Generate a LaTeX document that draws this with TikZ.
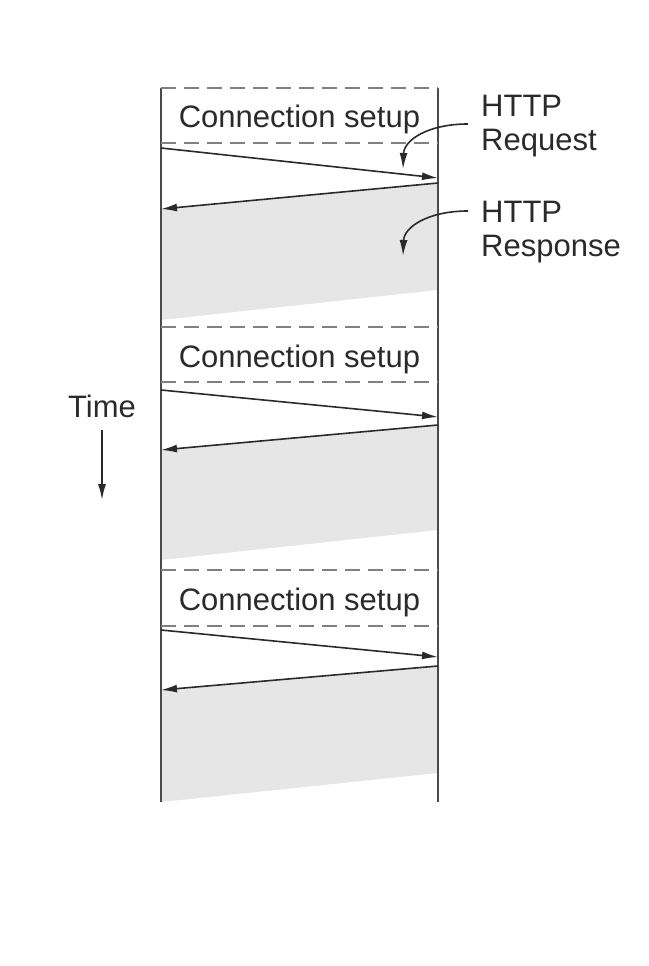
\documentclass[tikz,border=0pt]{standalone}
\usepackage{fontspec}
\setmainfont{Liberation Sans}
\usetikzlibrary{arrows.meta}
\definecolor{txt}{HTML}{2A2A2A}
\definecolor{respgray}{HTML}{E6E6E6}
\definecolor{sepgray}{HTML}{808080}
\definecolor{vline}{HTML}{4A4A4A}
\tikzset{
  lbl/.style={font=\fontsize{31}{34}\selectfont, text=txt, inner sep=0pt},
  msg/.style={draw=txt, line width=1.6pt, -{Latex[length=16pt,width=8pt]}},
  sep/.style={draw=sepgray, line width=1.5pt, dash pattern=on 15pt off 8pt},
  side/.style={draw=vline, line width=1.4pt},
  pointer/.style={draw=txt, line width=1.6pt, -{Latex[length=16pt,width=8pt]}},
}
\begin{document}
\begin{tikzpicture}[x=1pt,y=-1pt]
\useasboundingbox (0,0) rectangle (648,966);
% shaded response regions
\fill[respgray] (161,209) -- (438,183) -- (438,290) -- (161,320) -- cycle;
\fill[respgray] (161,450) -- (438,425) -- (438,530) -- (161,560) -- cycle;
\fill[respgray] (161,690) -- (438,666) -- (438,773) -- (161,802) -- cycle;
% side lines
\coordinate (ltop) at (161,88);
\coordinate (lbot) at (161,802);
\coordinate (rtop) at (438,88);
\coordinate (rbot) at (438,802);
\draw[side] (ltop) -- (lbot);
\draw[side] (rtop) -- (rbot);
% dashed separators
\foreach \y/\n in {88/a,143/b,327/c,382/d,570/e,626/f}{
  \coordinate (sl\n) at (161,\y);
  \coordinate (sr\n) at (438,\y);
  \draw[sep] (sl\n) -- (sr\n);
}
% labels
\node[lbl, anchor=base] (cs1) at (299.5,127) {Connection setup};
\node[lbl, anchor=base] (cs2) at (299.5,367) {Connection setup};
\node[lbl, anchor=base] (cs3) at (299.5,610) {Connection setup};
% messages
\coordinate (q1s) at (161,148); \coordinate (q1e) at (438,178);
\coordinate (r1s) at (438,183); \coordinate (r1e) at (161,209);
\coordinate (q2s) at (161,390); \coordinate (q2e) at (438,417);
\coordinate (r2s) at (438,425); \coordinate (r2e) at (161,450);
\coordinate (q3s) at (161,630); \coordinate (q3e) at (438,657);
\coordinate (r3s) at (438,666); \coordinate (r3e) at (161,690);
\draw[msg] (q1s) -- (q1e);
\draw[msg] (r1s) -- (r1e);
\draw[msg] (q2s) -- (q2e);
\draw[msg] (r2s) -- (r2e);
\draw[msg] (q3s) -- (q3e);
\draw[msg] (r3s) -- (r3e);
% HTTP labels
\node[lbl, anchor=base west, align=left] (req) at (481,150) {HTTP\\Request};
\node[lbl, anchor=base west, align=left] (resp) at (481,256) {HTTP\\Response};
\coordinate (p1s) at (468,124); \coordinate (p1e) at (403,169);
\coordinate (p2s) at (468,211); \coordinate (p2e) at (403,256);
\draw[pointer] (p1s) .. controls (428,124) and (404,140) .. (p1e);
\draw[pointer] (p2s) .. controls (428,211) and (404,227) .. (p2e);
% time
\node[lbl, anchor=base] (time) at (102,417) {Time};
\coordinate (t1) at (102,430);
\coordinate (t2) at (102,500);
\draw[msg] (t1) -- (t2);
\end{tikzpicture}
\end{document}
